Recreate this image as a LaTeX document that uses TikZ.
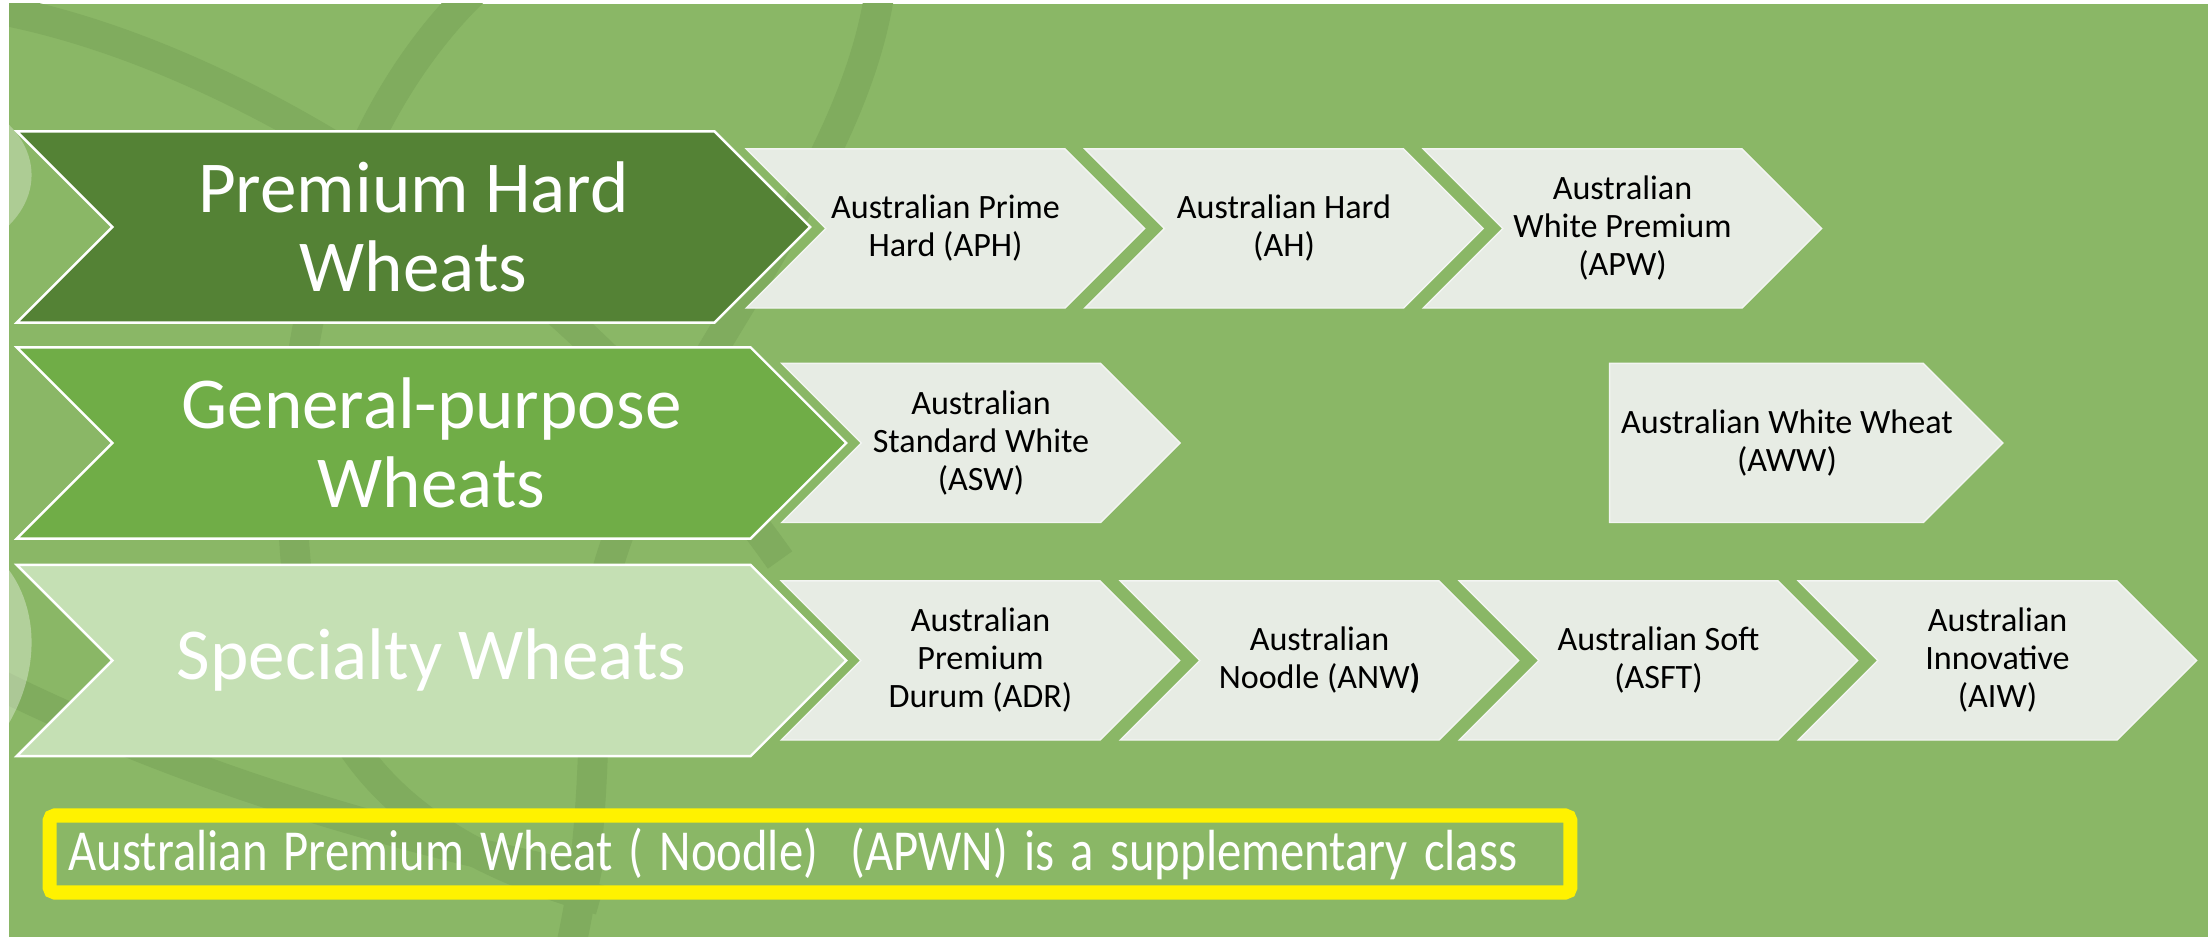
\documentclass[tikz,border=0pt]{standalone}
\usepackage{fontspec}
\setmainfont{Carlito}
\usetikzlibrary{shapes.symbols}
\definecolor{bggreen}{HTML}{8AB766}
\definecolor{bandgreen}{HTML}{80AC5E}
\definecolor{darkchev}{HTML}{548235}
\definecolor{midchev}{HTML}{70AD47}
\definecolor{lightchev}{HTML}{C5E0B4}
\definecolor{subfill}{HTML}{E7ECE4}
\tikzset{chev/.style={shape=signal, signal from=west, signal to=east, signal pointer angle=90, inner sep=0pt, align=center},
	bigchev/.style={chev, draw=white, line width=0.7pt, text=white, font=\fontsize{20.8}{22.5}\selectfont, minimum height=1.91cm},
	subtext/.style={text=black, align=center, font=\fontsize{9.7}{10.8}\selectfont},
	subchev/.style={chev, subtext, fill=subfill, draw=subfill!50!white, line width=0.4pt, minimum height=1.59cm, minimum width=3.98cm},
	band/.style={bandgreen, line width=8.5pt}}

\begin{document}
\begin{tikzpicture}[x=0.01cm, y=-0.01cm]
\useasboundingbox (0,0) rectangle (2208,937);
\fill[white] (0,0) rectangle (2208,937);
\fill[bggreen] (9,4) rectangle (2208,937);

% faint circles of the slide background
\begin{scope}
\clip (9,4) rectangle (2208,937);
\draw[band] (-10,8) .. controls (230,50) and (560,250) .. (780,560);
\draw[band] (475,-10) .. controls (330,130) and (270,380) .. (300,600) .. controls (320,760) and (420,850) .. (600,900);
\draw[band] (880,-10) .. controls (850,200) and (640,400) .. (600,600) .. controls (590,700) and (600,820) .. (570,950);
\draw[band] (-10,680) .. controls (150,760) and (350,830) .. (600,880);
\draw[white, opacity=0.3, line width=8pt] (-20,120) .. controls (30,150) and (30,200) .. (-20,230);
\draw[white, opacity=0.35, line width=8pt] (-20,560) .. controls (30,600) and (30,680) .. (-20,740);
\end{scope}

% classes
\node[bigchev, fill=darkchev, minimum width=7.93cm] (hard) at (413.5,227) {Premium Hard\\Wheats};
\node[bigchev, fill=midchev, minimum width=8.29cm] (general) at (431.5,443) {General-purpose\\Wheats};
\node[bigchev, fill=lightchev, minimum width=8.29cm] (special) at (431.5,660.5) {Specialty Wheats};

% grades
\node[subchev] (aph) at (945.5,228.5) {Australian Prime\\Hard (APH)};
\node[subchev] (ah) at (1284,228.5) {Australian Hard\\(AH)};
\node[subchev] (apw) at (1622.5,228.5) {Australian\\White Premium\\(APW)};

\node[subchev] (asw) at (981,443) {Australian\\Standard White\\(ASW)};
\node[subchev, signal from=nowhere, minimum width=0pt, inner xsep=-0.09cm] (aww) at (1766.5,443) {\phantom{Australian White Wheat}};
\node[subtext] (awwtext) at (1787,443) {Australian White Wheat\\(AWW)};

\node[subchev] (adr) at (980.5,660.5) {Australian\\Premium\\Durum (ADR)};
\node[subchev] (anw) at (1319.5,660.5) {Australian\\Noodle (ANW{\bfseries )}};
\node[subchev] (asft) at (1658.5,660.5) {Australian Soft\\(ASFT)};
\node[subchev] (aiw) at (1997.5,660.5) {Australian\\Innovative\\(AIW)};

% note
\node[draw=yellow, line width=4pt, rounded corners=1.5pt, minimum width=15.2cm, minimum height=0.77cm, inner xsep=0.19cm, text width=14.82cm, align=left, text=white, font=\fontsize{16.5}{18}\selectfont] (note) at (810,854) {\resizebox{14.48cm}{\height}{Australian Premium Wheat ( Noodle)~~(APWN) is a supplementary class}};
\end{tikzpicture}
\end{document}
